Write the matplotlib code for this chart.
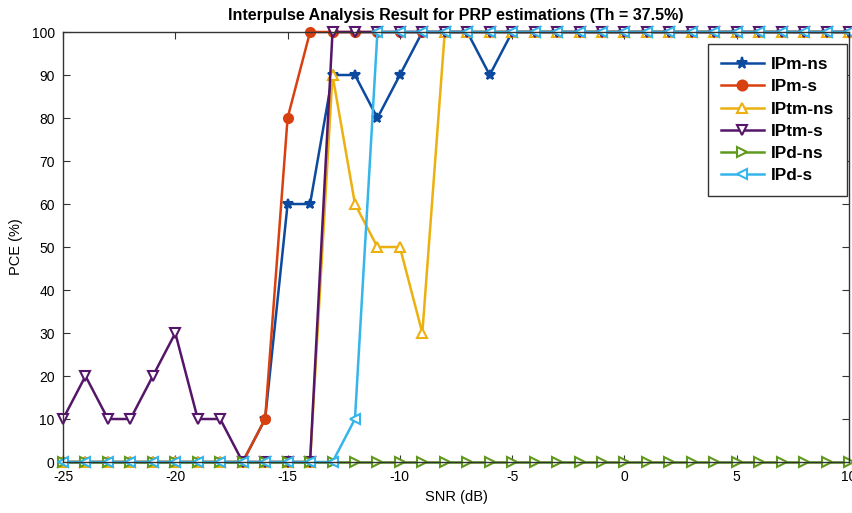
import matplotlib.pyplot as plt
import numpy as np

plt.rcParams['font.family'] = ['Liberation Sans', 'DejaVu Sans']
plt.rcParams['axes.unicode_minus'] = False

snr = np.arange(-25, 11)

ipm_ns = [0, 0, 0, 0, 0, 0, 0, 0, 0, 10, 60, 60, 90, 90, 80, 90, 100, 100, 100, 90] + [100] * 16
ipm_s = [0, 0, 0, 0, 0, 0, 0, 0, 0, 10, 80, 100] + [100] * 24
iptm_ns = [0] * 12 + [90, 60, 50, 50, 30] + [100] * 19
iptm_s = [10, 20, 10, 10, 20, 30, 10, 10, 0, 0, 0, 0] + [100] * 24
ipd_ns = [0] * 36
ipd_s = [0] * 13 + [10] + [100] * 22

labels = ['IPm-ns', 'IPm-s', 'IPtm-ns', 'IPtm-s', 'IPd-ns', 'IPd-s']
colors = ['#0b4a9e', '#d9400f', '#ecb010', '#55166a', '#5f9a1e', '#35b5ea']
markers = ['*', 'o', '^', 'v', '>', '<']
filled = [True, True, False, False, False, False]

fig = plt.figure(figsize=(8.53, 5.13), dpi=100)
ax = fig.add_axes([0.0739, 0.0994, 0.9214, 0.8382])

series = [ipm_ns, ipm_s, iptm_ns, iptm_s, ipd_ns, ipd_s]
for y, lab, c, m, f in zip(series, labels, colors, markers, filled):
    ax.plot(snr, y, color=c, marker=m, linewidth=1.8, markersize=7.5 if m == '*' else 6.5,
            markerfacecolor=c if f else 'white', markeredgecolor=c, markeredgewidth=1.5,
            label=lab, clip_on=False)

ax.set_xlim(-25, 10)
ax.set_ylim(0, 100)
ax.set_xticks(np.arange(-25, 11, 5))
ax.set_yticks(np.arange(0, 101, 10))
ax.tick_params(direction='in', top=True, right=True, labelsize=10, length=5,
               pad=6, color='#333333')
for s in ax.spines.values():
    s.set_linewidth(1.0)
    s.set_color('#333333')

ax.set_title('Interpulse Analysis Result for PRP estimations (Th = 37.5%)',
             fontsize=11.5, fontweight='bold', pad=9)
ax.set_xlabel('SNR (dB)', fontsize=10.5, labelpad=4)
ax.set_ylabel('PCE (%)', fontsize=10.5, labelpad=6)

leg = ax.legend(loc='upper right', bbox_to_anchor=(0.9975, 0.972), borderaxespad=0,
                prop={'weight': 'bold', 'size': 12.4}, fancybox=False, edgecolor='#333333',
                framealpha=1, handlelength=2.5, borderpad=0.75, labelspacing=0.42,
                handletextpad=0.4, markerscale=1.1)
leg.get_frame().set_linewidth(1.0)

plt.savefig('out.png', dpi=100)
